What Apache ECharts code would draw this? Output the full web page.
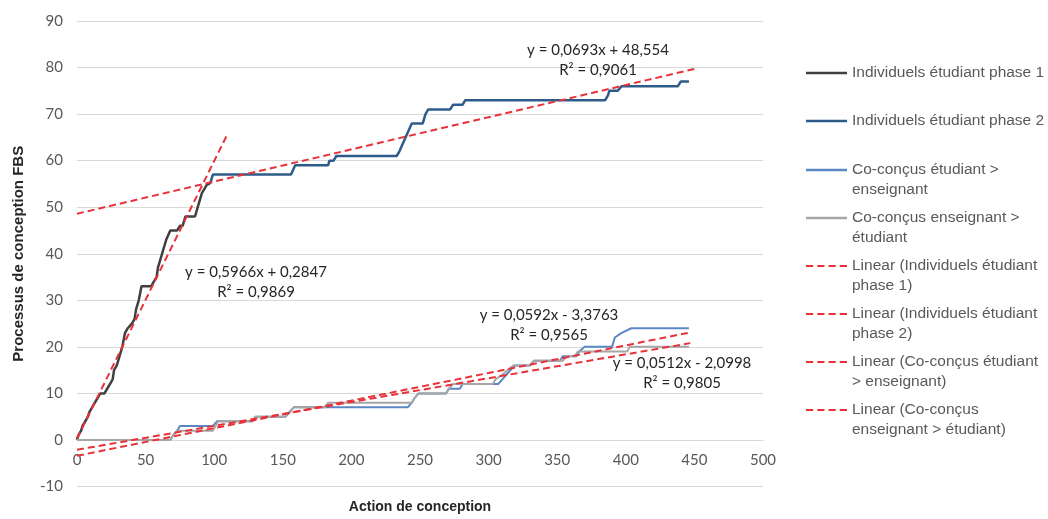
<!DOCTYPE html>
<html>
<head>
<meta charset="utf-8">
<script src="https://cdn.jsdelivr.net/npm/echarts@6/dist/echarts.min.js"></script>
<style>html,body{margin:0;padding:0;background:#fff;}#c{width:1048px;height:519px;}</style>
</head>
<body>
<div id="c"></div>
<script>
// ---- data ----
var seriesNames = [
  'Individuels étudiant phase 1',
  'Individuels étudiant phase 2',
  'Co-conçus étudiant > enseignant',
  'Co-conçus enseignant > étudiant',
  'Linear (Individuels étudiant phase 1)',
  'Linear (Individuels étudiant phase 2)',
  'Linear (Co-conçus étudiant > enseignant)',
  'Linear (Co-conçus enseignant > étudiant)'
];
var legendLabels = [
  'Individuels étudiant phase 1',
  'Individuels étudiant phase 2',
  'Co-conçus étudiant >\nenseignant',
  'Co-conçus enseignant >\nétudiant',
  'Linear (Individuels étudiant\nphase 1)',
  'Linear (Individuels étudiant\nphase 2)',
  'Linear (Co-conçus étudiant\n> enseignant)',
  'Linear (Co-conçus\nenseignant > étudiant)'
];
var xTicks = [0, 50, 100, 150, 200, 250, 300, 350, 400, 450, 500];
var yTicks = [-10, 0, 10, 20, 30, 40, 50, 60, 70, 80, 90];

var phase1 = [[0,0],[1,1],[3,2],[4,3],[6,4],[8,5],[9,6],[11,7],[13,8],[15,9],[17,10],[20,10],[22,11],[24,12],[26,13],[27,15],[29,16],[31,18],[33,20],[35,23],[37,24],[40,25],[42,26],[43,28],[45,30],[47,33],[54,33],[56,34],[58,35],[59,37],[61,39],[63,41],[65,43],[68,45],[73,45],[75,46],[77,46],[79,48],[86,48],[88,50],[90,52],[91,53],[93,54],[95,55],[97,55]];
var phase2 = [[97,55],[99,57],[156,57],[159,59],[183,59],[184,60],[187,60],[189,61],[233,61],[235,62],[238,64],[241,66],[244,68],[252,68],[254,70],[256,71],[272,71],[274,72],[281,72],[283,73],[385,73],[387,74],[388,75],[394,75],[397,76],[438,76],[440,77],[446,77]];
var coStudent = [[0,0],[68,0],[70,1],[73,2],[75,3],[99,3],[102,4],[128,4],[130,5],[152,5],[155,6],[158,7],[241,7],[244,8],[246,9],[249,10],[269,10],[271,11],[279,11],[281,12],[307,12],[310,13],[313,14],[316,15],[319,16],[330,16],[333,17],[352,17],[354,18],[364,18],[366,19],[370,20],[390,20],[392,22],[397,23],[404,24],[446,24]];
var coTeacher = [[0,0],[68,0],[70,1],[73,2],[99,2],[101,3],[103,4],[128,4],[130,5],[152,5],[155,6],[158,7],[181,7],[183,8],[244,8],[246,9],[249,10],[269,10],[271,11],[274,12],[303,12],[305,13],[310,14],[314,15],[318,16],[330,16],[333,17],[354,17],[357,18],[363,18],[365,19],[401,19],[403,20],[446,20]];
var trendPhase1 = [[0,0.3],[110,65.9]];
var trendPhase2 = [[0,48.6],[450,79.7]];
var trendCoStudent = [[0,-3.4],[447,23.1]];
var trendCoTeacher = [[0,-2.1],[447,20.8]];
var equations = [
  ['y = 0,0693x + 48,554', 'R² = 0,9061'],
  ['y = 0,5966x + 0,2847', 'R² = 0,9869'],
  ['y = 0,0592x - 3,3763', 'R² = 0,9565'],
  ['y = 0,0512x - 2,0998', 'R² = 0,9805']
];

// ---- chart ----
var chart = echarts.init(document.getElementById('c'), null, {renderer: 'canvas'});
var dataSets = [phase1, phase2, coStudent, coTeacher, trendPhase1, trendPhase2, trendCoStudent, trendCoTeacher];
var colors = ['#404040', '#2e5c8a', '#5b87c5', '#a6a6a6', '#e8323a', '#e8323a', '#e8323a', '#e8323a'];
var widths = [2.5, 2.5, 2, 2, 2, 2, 2, 2];

var series = dataSets.map(function (d, i) {
  var dashed = i >= 4;
  return {
    name: seriesNames[i],
    type: 'line',
    data: d,
    symbol: 'none',
    showSymbol: false,
    z: dashed ? 5 : 2,
    lineStyle: {color: colors[i], width: widths[i], type: dashed ? [7, 4] : 'solid'},
    itemStyle: {color: colors[i]},
    animation: false
  };
});

var solidIcon = 'path://M0,0h40v2.4h-40z';
var dashIcon = 'path://M0,0h7v2h-7zM11,0h7v2h-7zM22,0h7v2h-7zM33,0h7v2h-7z';
var legendCenters = [73, 121, 170, 218, 266, 314, 362, 410];
var legends = seriesNames.map(function (n, i) {
  var twoLine = legendLabels[i].indexOf('\n') >= 0;
  var label = legendLabels[i];
  return {
    data: [{name: n, icon: i >= 4 ? dashIcon : solidIcon}],
    orient: 'vertical',
    left: 806,
    top: legendCenters[i] - (twoLine ? 30 : 10),
    padding: 0,
    itemWidth: 41,
    itemHeight: 14,
    itemGap: 0,
    selectedMode: false,
    itemStyle: {color: colors[i], borderWidth: 0},
    formatter: function () { return twoLine ? '\n' + label : label; },
    textStyle: {color: '#595959', fontSize: 15.5, fontFamily: 'Liberation Sans', lineHeight: 20}
  };
});

var eqPos = [[598, 50], [256, 272], [549, 315], [682, 363]];
var graphics = equations.map(function (e, i) {
  return {
    type: 'text', silent: true, z: 10,
    x: eqPos[i][0], y: eqPos[i][1] + 10,
    style: {text: e[0] + '\n' + e[1], fill: '#262626', fontFamily: 'Lato', fontSize: 15, align: 'center', verticalAlign: 'middle', lineHeight: 20}
  };
});

var gridTop = 21, gridBottom = 32.5, chartH = 519;
var plotH = chartH - gridTop - gridBottom;
var yMin = yTicks[0], yMax = yTicks[yTicks.length - 1];
var xAxisOffset = -(0 - yMin) * plotH / (yMax - yMin);

chart.setOption({
  animation: false,
  backgroundColor: '#ffffff',
  grid: {left: 77, right: 285, top: gridTop, bottom: gridBottom, containLabel: false, outerBoundsMode: 'none'},
  xAxis: {
    type: 'value', min: xTicks[0], max: xTicks[xTicks.length - 1], interval: xTicks[1] - xTicks[0],
    position: 'bottom', offset: xAxisOffset,
    name: 'Action de conception', nameLocation: 'middle', nameGap: 60,
    nameTextStyle: {color: '#262626', fontWeight: 'bold', fontSize: 14, fontFamily: 'Liberation Sans'},
    axisLine: {onZero: false, lineStyle: {color: '#d9d9d9', width: 1}},
    axisTick: {show: false},
    splitLine: {show: false},
    axisLabel: {color: '#595959', fontSize: 15, fontFamily: 'Lato', margin: 13}
  },
  yAxis: {
    type: 'value', min: yMin, max: yMax, interval: yTicks[1] - yTicks[0],
    name: 'Processus de conception FBS', nameLocation: 'middle', nameRotate: 90, nameGap: 51,
    nameTextStyle: {color: '#262626', fontWeight: 'bold', fontSize: 15, fontFamily: 'Liberation Sans'},
    axisLine: {show: false, onZero: false},
    axisTick: {show: false},
    splitLine: {lineStyle: {color: '#d9d9d9', width: 1}},
    axisLabel: {color: '#595959', fontSize: 15, fontFamily: 'Lato', margin: 14}
  },
  legend: legends,
  series: series,
  graphic: graphics
});
</script>
</body>
</html>
